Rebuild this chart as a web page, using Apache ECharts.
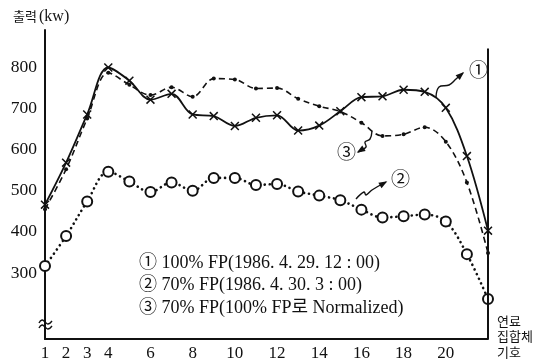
<!DOCTYPE html>
<html><head><meta charset="utf-8">
<script src="https://cdn.jsdelivr.net/npm/echarts@6/dist/echarts.min.js"></script>
<style>html,body{margin:0;padding:0;background:#fff}#c{width:548px;height:364px}</style>
</head><body><div id="c"></div>
<script>
// fuel assembly position numbers
const positions = [1,2,3,4,5,6,7,8,9,10,11,12,13,14,15,16,17,18,19,20,21,22];
// (1) 100% FP (1986.4.29 12:00)
const fp100 = [466,568,685,799,767,721,735,685,681,657,677,683,646,658,693,727,729,745,740,701,584,403];
// (2) 70% FP (1986.4.30 3:00)
const fp70 = [317,390,474,546,522,497,520,500,531,531,514,516,498,488,477,454,435,438,442,425,346,237];
// (3) 70% FP normalized to 100% FP
const fp70norm = [455,552,675,786,757,732,751,728,772,770,748,749,723,705,692,665,633,637,654,619,520,349];
const xTickLabels = [1,2,3,4,6,8,10,12,14,16,18,20];
const yTickLabels = [300,400,500,600,700,800];
const legendLines = ['\u2460 100% FP(1986. 4. 29. 12 : 00)', '\u2461 70% FP(1986. 4. 30. 3 : 00)', '\u2462 70% FP(100% FP\uB85C Normalized)'];
const yTitleKo = '\uCD9C\uB825';
const yTitleUnit = '(kw)';
const xTitle = ['\uC5F0\uB8CC', '\uC9D1\uD569\uCCB4', '\uAE30\uD638'];

const SERIF = "'Liberation Serif','Noto Sans CJK KR',serif";
const CJK = "'Noto Sans CJK KR','Liberation Serif',sans-serif";
const pair = a => positions.map((p, i) => [p, a[i]]);
const crossPath = 'path://M0,1.2L1.2,0L10,8.8L8.8,10Z M8.8,0L10,1.2L1.2,10L0,8.8Z';

function arrow(pts, w) {
  const n = pts.length;
  const [x1, y1] = pts[n - 2], [x2, y2] = pts[n - 1];
  const a = Math.atan2(y2 - y1, x2 - x1), L = 7, h = 3.2;
  const bx = x2 - L * Math.cos(a), by = y2 - L * Math.sin(a);
  return [
    { type: 'polyline', shape: { points: pts, smooth: 0.4 }, style: { stroke: '#111', lineWidth: w || 1.4, fill: null } },
    { type: 'polygon', shape: { points: [[x2 + 1.5 * Math.cos(a), y2 + 1.5 * Math.sin(a)], [bx - h * Math.sin(a), by + h * Math.cos(a)], [bx + h * Math.sin(a), by - h * Math.cos(a)]] }, style: { fill: '#111' } }
  ];
}
function txt(x, y, text, font, extra) {
  return { type: 'text', x: x, y: y, style: Object.assign({ text: text, font: font, fill: '#111' }, extra || {}) };
}

const chart = echarts.init(document.getElementById('c'));
const graphics = [
  txt(13, 10, yTitleKo, '13px ' + CJK),
  txt(39, 9, yTitleUnit, '16px ' + SERIF),
  txt(497, 313, xTitle.join('\n'), '13px ' + CJK, { lineHeight: 15.5 }),
  txt(469, 60, '\u2460', '19px ' + CJK),
  txt(391, 169, '\u2461', '19px ' + CJK),
  txt(337, 142, '\u2462', '19px ' + CJK),
  { type: 'polyline', shape: { points: [[39, 323], [42, 320], [45, 322], [48, 324], [52, 321]], smooth: 0.5 }, style: { stroke: '#111', lineWidth: 1.4, fill: null } },
  { type: 'polyline', shape: { points: [[39, 328], [42, 325], [45, 327], [48, 329], [52, 326]], smooth: 0.5 }, style: { stroke: '#111', lineWidth: 1.4, fill: null } },
  ...arrow([[436, 97], [439, 87], [449, 85], [456, 79], [463, 73]]),
  ...arrow([[356, 199], [364, 192], [366, 195], [372, 190], [386, 182]]),
  ...arrow([[372, 131], [370, 139], [365, 142], [366, 147], [358, 152]])
];
legendLines.forEach((t, i) => {
  graphics.push(txt(139, 254 + i * 22.5, t, '18px ' + SERIF));
});

chart.setOption({
  animation: false,
  backgroundColor: '#fff',
  grid: { left: 45, right: 60, top: 30, bottom: 25, containLabel: false },
  xAxis: {
    type: 'value', min: 1, max: 22,
    axisLine: { show: true, lineStyle: { color: '#111', width: 2 } },
    axisTick: { show: false },
    splitLine: { show: false },
    axisLabel: { customValues: xTickLabels, color: '#111', fontSize: 17, fontFamily: SERIF, margin: 6 }
  },
  yAxis: {
    type: 'value', min: 140, max: 890,
    axisLine: { show: true, lineStyle: { color: '#111', width: 2 } },
    axisTick: { show: false },
    splitLine: { show: false },
    axisLabel: { customValues: yTickLabels, color: '#111', fontSize: 17.5, fontFamily: SERIF, margin: 8 }
  },
  graphic: graphics,
  series: [
    {
      name: '1', type: 'line', data: pair(fp100), smooth: 0.35,
      symbol: crossPath, symbolSize: 9,
      lineStyle: { color: '#111', width: 1.8, type: 'solid' },
      itemStyle: { color: '#111' },
      markLine: {
        silent: true, symbol: 'none', label: { show: false },
        lineStyle: { color: '#111', width: 2, type: 'solid' },
        data: [[{ coord: [22, 845] }, { coord: [22, 140] }]]
      }
    },
    {
      name: '3', type: 'line', data: pair(fp70norm), smooth: 0.35,
      symbol: 'circle', symbolSize: 4,
      lineStyle: { color: '#111', width: 1.6, type: [6, 4] },
      itemStyle: { color: '#111' }
    },
    {
      name: '2', type: 'line', data: pair(fp70), smooth: 0.35,
      symbol: 'emptyCircle', symbolSize: 10,
      lineStyle: { color: '#111', width: 2.6, type: [0.1, 5], cap: 'round' },
      itemStyle: { color: '#111', borderWidth: 2.2 }
    }
  ]
});
</script></body></html>
